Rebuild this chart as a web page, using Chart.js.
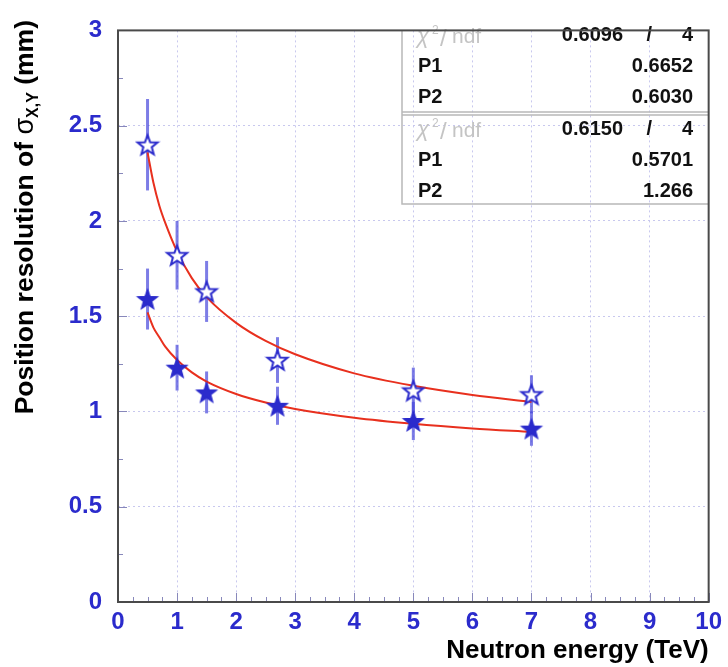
<!DOCTYPE html>
<html>
<head>
<meta charset="utf-8">
<script src="https://cdn.jsdelivr.net/npm/chart.js@4.4.1/dist/chart.umd.min.js"></script>
<style>
    html, body { margin: 0; padding: 0; background: #fff; }
    #wrap { width: 728px; height: 667px; }
</style>
</head>
<body>
<div id="wrap"><canvas id="chart" width="728" height="667"></canvas></div>
<script>
// measured points (neutron energy in TeV, resolution in mm)
const energies = [0.5, 1, 1.5, 2.7, 5, 7];
const sigmaOpen = [2.40, 1.82, 1.63, 1.27, 1.11, 1.09];
const errOpen = [0.24, 0.18, 0.16, 0.12, 0.12, 0.10];
const sigmaFilled = [1.59, 1.23, 1.10, 1.03, 0.95, 0.91];
const errFilled = [0.16, 0.12, 0.11, 0.10, 0.10, 0.09];

// fit curves
const fitX = [0.5, 0.6, 0.7, 0.8, 1, 1.25, 1.5, 2, 2.5, 3, 4, 5, 6, 7];
const fitOpen = [2.36, 2.20, 2.08, 1.99, 1.84, 1.70, 1.60, 1.465, 1.37, 1.30, 1.20, 1.135, 1.087, 1.05];
const fitFilled = [1.52, 1.44, 1.39, 1.34, 1.27, 1.205, 1.157, 1.092, 1.047, 1.013, 0.967, 0.935, 0.911, 0.893];

// stats box
const statChi2 = ["0.6096", "0.6150"];
const statNdf = ["4", "4"];
const statP1 = ["0.6652", "0.5701"];
const statP2 = ["0.6030", "1.266"];

// ticks
const xTickLabels = ["0", "1", "2", "3", "4", "5", "6", "7", "8", "9", "10"];
const yTickLabels = ["0", "0.5", "1", "1.5", "2", "2.5", "3"];

const BLUE = "#2b2bcc";
const FONT = "'Liberation Sans', Arial, sans-serif";

function makeStar(fill, R, lw) {
    const c = document.createElement("canvas");
    c.width = 26;
    c.height = 26;
    const g = c.getContext("2d");
    const r = R * 0.42;
    g.beginPath();
    for (let i = 0; i < 10; i++) {
        const rad = i % 2 === 0 ? R : r;
        const a = -Math.PI / 2 + i * Math.PI / 5;
        const px = 13 + rad * Math.cos(a), py = 14 + rad * Math.sin(a);
        if (i === 0) g.moveTo(px, py); else g.lineTo(px, py);
    }
    g.closePath();
    g.fillStyle = fill;
    g.fill();
    g.lineWidth = lw;
    g.lineJoin = "miter";
    g.strokeStyle = BLUE;
    g.stroke();
    return c;
}

const openStar = makeStar("#ffffff", 10.5, 2);
const filledStar = makeStar(BLUE, 10.5, 1.2);

const pts = (xs, ys) => xs.map((x, i) => ({x: x, y: ys[i]}));

// error bars, minor ticks, frame, titles, stats box
const decor = {
    id: "decor",
    beforeDatasetsDraw(chart) {
        const {ctx, scales: {x, y}} = chart;
        ctx.save();
        ctx.strokeStyle = "rgba(70,70,220,0.7)";
        ctx.lineWidth = 3;
        [[sigmaOpen, errOpen], [sigmaFilled, errFilled]].forEach(([vals, errs]) => {
            vals.forEach((v, i) => {
                const px = x.getPixelForValue(energies[i]);
                ctx.beginPath();
                ctx.moveTo(px, y.getPixelForValue(v + errs[i]));
                ctx.lineTo(px, y.getPixelForValue(v - errs[i]));
                ctx.stroke();
            });
        });
        ctx.restore();
    },
    afterDraw(chart) {
        const {ctx, chartArea: a, scales: {x, y}} = chart;
        ctx.save();
        // minor ticks
        ctx.strokeStyle = "#8888bb";
        ctx.lineWidth = 1;
        for (let v = 0; v <= 10.001; v += 0.25) {
            const px = Math.round(x.getPixelForValue(v)) + 0.5;
            const len = Math.abs(v - Math.round(v)) < 0.01 ? 9 : 5;
            ctx.beginPath();
            ctx.moveTo(px, a.bottom);
            ctx.lineTo(px, a.bottom - len);
            ctx.stroke();
        }
        for (let v = 0; v <= 3.001; v += 0.25) {
            const py = Math.round(y.getPixelForValue(v)) + 0.5;
            const len = Math.abs(v * 2 - Math.round(v * 2)) < 0.01 ? 9 : 5;
            ctx.beginPath();
            ctx.moveTo(a.left, py);
            ctx.lineTo(a.left + len, py);
            ctx.stroke();
        }

        // stats box
        const bl = 402, bt = a.top, br = a.right, bm = 112, bb = 204;
        ctx.strokeStyle = "#b8b8b8";
        ctx.lineWidth = 1.5;
        ctx.beginPath();
        ctx.moveTo(bl, bt); ctx.lineTo(bl, bb); ctx.lineTo(br, bb);
        ctx.moveTo(bl, bm); ctx.lineTo(br, bm);
        ctx.moveTo(bl, bm + 3); ctx.lineTo(br, bm + 3);
        ctx.stroke();

        const rows = [[35.5, 66, 97], [129, 160, 191]];
        rows.forEach((r, k) => {
            ctx.fillStyle = "#c4c4c4";
            ctx.textAlign = "left";
            ctx.textBaseline = "alphabetic";
            ctx.font = "italic 22px " + FONT;
            ctx.fillText("\u03c7", 417, r[0] + 7);
            ctx.font = "12px " + FONT;
            ctx.fillText("2", 432, r[0] - 2);
            ctx.font = "24px " + FONT;
            ctx.fillText("/", 440, r[0] + 10);
            ctx.font = "21px " + FONT;
            ctx.fillText("ndf", 452, r[0] + 7.5);

            ctx.textBaseline = "middle";
            ctx.fillStyle = "#111";
            ctx.font = "bold 20px " + FONT;
            ctx.textAlign = "right";
            ctx.fillText(statChi2[k], 623, r[0]);
            ctx.fillText("/", 652, r[0]);
            ctx.fillText(statNdf[k], 693, r[0]);
            ctx.fillText(statP1[k], 693, r[1]);
            ctx.fillText(statP2[k], 693, r[2]);
            ctx.textAlign = "left";
            ctx.fillText("P1", 418, r[1]);
            ctx.fillText("P2", 418, r[2]);
        });

        // frame
        ctx.strokeStyle = "#4a4a4a";
        ctx.lineWidth = 2;
        ctx.strokeRect(a.left, a.top, a.right - a.left, a.bottom - a.top);

        // x title
        ctx.fillStyle = "#000";
        ctx.font = "bold 26px " + FONT;
        ctx.textAlign = "right";
        ctx.textBaseline = "alphabetic";
        ctx.fillText("Neutron energy (TeV)", a.right, 658);

        // y title with subscript
        const parts = [
            ["Position resolution of ", "bold 26.5px " + FONT, 0],
            ["\u03c3", "27px " + FONT, 0],
            ["X,Y", "bold 16px " + FONT, 5],
            [" (mm)", "bold 26.5px " + FONT, 0]
        ];
        let total = 0;
        parts.forEach(p => { ctx.font = p[1]; total += ctx.measureText(p[0]).width; });
        ctx.translate(33, 20);
        ctx.rotate(-Math.PI / 2);
        ctx.textAlign = "left";
        let cx = -total;
        parts.forEach(p => {
            ctx.font = p[1];
            ctx.fillText(p[0], cx, p[2]);
            cx += ctx.measureText(p[0]).width;
        });
        ctx.restore();
    }
};

new Chart(document.getElementById("chart"), {
    type: "scatter",
    data: {
        datasets: [
            {
                label: "open",
                data: pts(energies, sigmaOpen),
                pointStyle: openStar,
                pointRadius: 11,
                order: 0
            },
            {
                label: "filled",
                data: pts(energies, sigmaFilled),
                pointStyle: filledStar,
                pointRadius: 11,
                order: 1
            },
            {
                label: "fit open",
                data: pts(fitX, fitOpen),
                showLine: true,
                borderColor: "#e8301e",
                borderWidth: 2,
                pointRadius: 0,
                cubicInterpolationMode: "monotone",
                order: 2
            },
            {
                label: "fit filled",
                data: pts(fitX, fitFilled),
                showLine: true,
                borderColor: "#e8301e",
                borderWidth: 2,
                pointRadius: 0,
                cubicInterpolationMode: "monotone",
                order: 3
            }
        ]
    },
    options: {
        responsive: false,
        animation: false,
        layout: {
            padding: {top: 17, right: 19, left: 0, bottom: 0}
        },
        plugins: {
            legend: {display: false},
            tooltip: {enabled: false}
        },
        scales: {
            x: {
                type: "linear",
                min: 0,
                max: 10,
                afterFit(scale) { scale.height = 65; },
                afterBuildTicks(scale) {
                    scale.ticks = xTickLabels.map(v => ({value: parseFloat(v)}));
                },
                ticks: {
                    color: BLUE,
                    font: {family: FONT, size: 24, weight: "bold"},
                    padding: 6,
                    maxRotation: 0,
                    callback: (v, i) => xTickLabels[i]
                },
                grid: {color: "#c8c8ee", lineWidth: 1, drawTicks: false},
                border: {display: false, dash: [2, 3]}
            },
            y: {
                type: "linear",
                min: 0,
                max: 3,
                afterFit(scale) { scale.width = 118; },
                afterBuildTicks(scale) {
                    scale.ticks = yTickLabels.map(v => ({value: parseFloat(v)}));
                },
                ticks: {
                    color: BLUE,
                    font: {family: FONT, size: 24, weight: "bold"},
                    padding: 16,
                    callback: (v, i) => yTickLabels[i]
                },
                grid: {color: "#c8c8ee", lineWidth: 1, drawTicks: false},
                border: {display: false, dash: [2, 3]}
            }
        }
    },
    plugins: [decor]
});
</script>
</body>
</html>
